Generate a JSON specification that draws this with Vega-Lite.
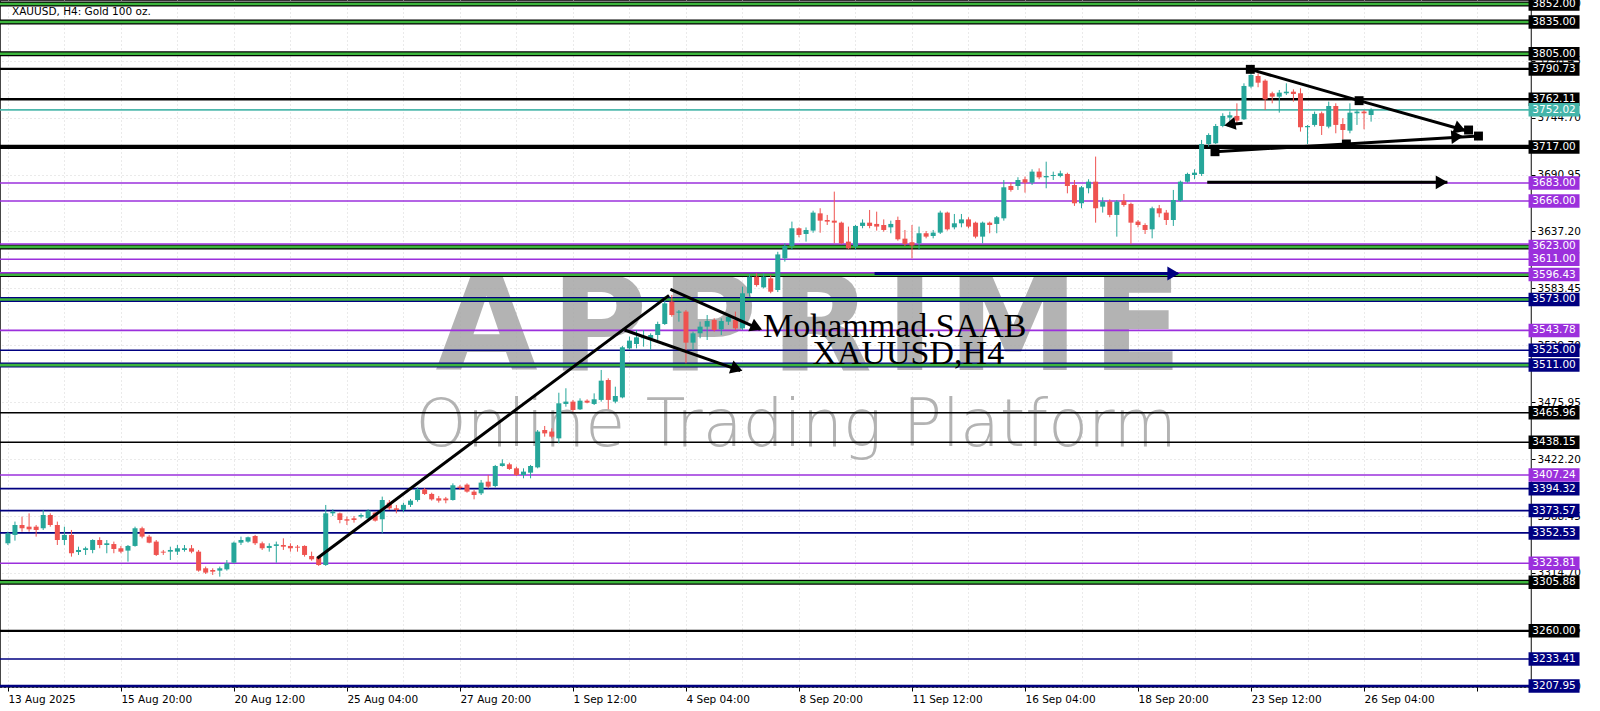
{
"$schema":"https://vega.github.io/schema/vega-lite/v6.json",
"width":1531,"height":687,"autosize":{"type":"none"},
"padding":{"left":0,"top":0,"right":69,"bottom":24},
"background":"#ffffff",
"config":{"view":{"stroke":"#333333","strokeWidth":1.2},"axis":{"labelFont":"DejaVu Sans","labelFontSize":10.5,"labelColor":"#000000"}},
"datasets":{
"candles":[
{"i":0,"o":3342.7,"h":3353.7,"l":3341.1,"c":3352.1},{"i":1,"o":3350.6,"h":3363.2,"l":3345.2,"c":3360.0},{"i":2,"o":3360.0,"h":3367.9,"l":3353.7,"c":3356.9},{"i":3,"o":3358.4,"h":3371.0,"l":3353.7,"c":3355.9},{"i":4,"o":3358.4,"h":3360.0,"l":3349.0,"c":3355.3},{"i":5,"o":3356.9,"h":3374.2,"l":3355.3,"c":3369.4},{"i":6,"o":3369.4,"h":3371.0,"l":3358.4,"c":3360.0},{"i":7,"o":3360.0,"h":3363.2,"l":3341.1,"c":3345.8},{"i":8,"o":3345.8,"h":3358.4,"l":3341.1,"c":3350.6},{"i":9,"o":3350.6,"h":3355.3,"l":3330.1,"c":3333.3},
{"i":10,"o":3334.5,"h":3339.5,"l":3331.7,"c":3336.4},{"i":11,"o":3336.4,"h":3339.5,"l":3331.7,"c":3338.0},{"i":12,"o":3336.4,"h":3346.5,"l":3333.3,"c":3345.8},{"i":13,"o":3345.8,"h":3348.4,"l":3338.0,"c":3341.1},{"i":14,"o":3341.1,"h":3345.8,"l":3333.3,"c":3342.7},{"i":15,"o":3342.0,"h":3344.3,"l":3333.3,"c":3337.3},{"i":16,"o":3338.0,"h":3340.2,"l":3333.3,"c":3334.8},{"i":17,"o":3335.8,"h":3341.1,"l":3325.4,"c":3340.2},{"i":18,"o":3340.2,"h":3358.4,"l":3339.5,"c":3356.9},{"i":19,"o":3356.9,"h":3358.4,"l":3347.4,"c":3349.0},
{"i":20,"o":3349.0,"h":3350.6,"l":3342.7,"c":3343.3},{"i":21,"o":3344.3,"h":3345.8,"l":3330.7,"c":3331.7},{"i":22,"o":3334.8,"h":3336.4,"l":3331.7,"c":3333.9},{"i":23,"o":3334.8,"h":3339.5,"l":3326.9,"c":3336.4},{"i":24,"o":3334.8,"h":3341.1,"l":3331.7,"c":3338.0},{"i":25,"o":3336.4,"h":3341.1,"l":3334.8,"c":3338.0},{"i":26,"o":3338.0,"h":3341.1,"l":3333.3,"c":3334.8},{"i":27,"o":3334.8,"h":3336.4,"l":3315.9,"c":3316.9},{"i":28,"o":3319.1,"h":3320.7,"l":3313.7,"c":3315.0},{"i":29,"o":3317.5,"h":3319.1,"l":3312.8,"c":3315.9},
{"i":30,"o":3316.9,"h":3320.7,"l":3311.2,"c":3319.1},{"i":31,"o":3318.1,"h":3326.9,"l":3316.9,"c":3323.8},{"i":32,"o":3324.4,"h":3344.3,"l":3323.8,"c":3343.3},{"i":33,"o":3343.3,"h":3349.0,"l":3341.1,"c":3345.8},{"i":34,"o":3344.3,"h":3349.0,"l":3343.3,"c":3348.4},{"i":35,"o":3349.6,"h":3350.6,"l":3341.1,"c":3342.7},{"i":36,"o":3342.7,"h":3344.3,"l":3336.4,"c":3338.0},{"i":37,"o":3338.3,"h":3342.7,"l":3334.8,"c":3340.2},{"i":38,"o":3340.2,"h":3344.3,"l":3324.4,"c":3341.7},{"i":39,"o":3341.1,"h":3347.4,"l":3336.4,"c":3339.5},
{"i":40,"o":3340.2,"h":3342.7,"l":3334.8,"c":3338.0},{"i":41,"o":3339.5,"h":3341.1,"l":3334.8,"c":3338.6},{"i":42,"o":3340.2,"h":3340.8,"l":3330.1,"c":3331.7},{"i":43,"o":3330.7,"h":3334.8,"l":3326.3,"c":3327.6},{"i":44,"o":3329.5,"h":3330.7,"l":3321.3,"c":3322.2},{"i":45,"o":3322.2,"h":3378.9,"l":3321.3,"c":3371.0},{"i":46,"o":3371.0,"h":3374.8,"l":3368.5,"c":3372.6},{"i":47,"o":3371.0,"h":3371.7,"l":3361.6,"c":3364.7},{"i":48,"o":3365.4,"h":3367.9,"l":3360.0,"c":3364.1},{"i":49,"o":3366.3,"h":3368.5,"l":3362.2,"c":3364.7},
{"i":50,"o":3367.9,"h":3371.0,"l":3366.3,"c":3369.4},{"i":51,"o":3366.3,"h":3374.8,"l":3365.4,"c":3373.5},{"i":52,"o":3371.7,"h":3372.6,"l":3363.2,"c":3364.1},{"i":53,"o":3365.4,"h":3386.8,"l":3352.1,"c":3383.6},{"i":54,"o":3381.1,"h":3383.6,"l":3374.2,"c":3375.7},{"i":55,"o":3375.7,"h":3378.9,"l":3371.0,"c":3374.2},{"i":56,"o":3374.2,"h":3381.0,"l":3372.0,"c":3379.0},{"i":57,"o":3379.0,"h":3384.5,"l":3377.0,"c":3383.0},{"i":58,"o":3383.6,"h":3395.5,"l":3382.0,"c":3393.7},{"i":59,"o":3393.7,"h":3394.9,"l":3388.3,"c":3389.3},
{"i":60,"o":3389.3,"h":3390.5,"l":3383.0,"c":3384.2},{"i":61,"o":3385.2,"h":3387.4,"l":3381.1,"c":3383.0},{"i":62,"o":3385.0,"h":3386.5,"l":3380.5,"c":3383.3},{"i":63,"o":3383.6,"h":3399.3,"l":3383.0,"c":3397.5},{"i":64,"o":3396.2,"h":3397.8,"l":3393.0,"c":3395.0},{"i":65,"o":3398.1,"h":3399.3,"l":3390.5,"c":3391.5},{"i":66,"o":3391.5,"h":3393.0,"l":3384.2,"c":3388.3},{"i":67,"o":3389.9,"h":3402.5,"l":3388.3,"c":3400.0},{"i":68,"o":3400.9,"h":3407.2,"l":3394.6,"c":3396.2},{"i":69,"o":3396.8,"h":3416.7,"l":3395.5,"c":3415.7},
{"i":70,"o":3415.7,"h":3422.0,"l":3415.1,"c":3418.2},{"i":71,"o":3417.3,"h":3418.8,"l":3412.0,"c":3412.9},{"i":72,"o":3413.5,"h":3415.1,"l":3406.3,"c":3407.2},{"i":73,"o":3407.2,"h":3413.5,"l":3404.1,"c":3410.4},{"i":74,"o":3409.4,"h":3416.7,"l":3404.1,"c":3415.7},{"i":75,"o":3414.4,"h":3449.7,"l":3413.5,"c":3448.2},{"i":76,"o":3449.7,"h":3453.5,"l":3443.4,"c":3446.5},{"i":77,"o":3448.2,"h":3451.3,"l":3441.8,"c":3443.4},{"i":78,"o":3441.8,"h":3484.9,"l":3437.1,"c":3474.9},{"i":79,"o":3474.3,"h":3489.1,"l":3471.7,"c":3476.5},
{"i":80,"o":3476.5,"h":3478.1,"l":3467.0,"c":3468.6},{"i":81,"o":3469.2,"h":3479.6,"l":3468.6,"c":3477.4},{"i":82,"o":3477.4,"h":3478.7,"l":3474.9,"c":3475.5},{"i":83,"o":3474.3,"h":3484.3,"l":3473.3,"c":3478.7},{"i":84,"o":3478.1,"h":3506.4,"l":3476.5,"c":3496.3},{"i":85,"o":3496.9,"h":3498.5,"l":3469.2,"c":3478.1},{"i":86,"o":3476.5,"h":3490.6,"l":3474.9,"c":3481.8},{"i":87,"o":3480.5,"h":3529.0,"l":3479.6,"c":3527.8},{"i":88,"o":3526.8,"h":3537.9,"l":3525.3,"c":3534.1},{"i":89,"o":3530.9,"h":3544.1,"l":3526.8,"c":3537.2},
{"i":90,"o":3536.3,"h":3544.1,"l":3528.4,"c":3537.2},{"i":91,"o":3536.3,"h":3541.0,"l":3525.3,"c":3539.4},{"i":92,"o":3539.4,"h":3552.0,"l":3534.7,"c":3549.8},{"i":93,"o":3549.8,"h":3575.6,"l":3548.9,"c":3569.3},{"i":94,"o":3570.9,"h":3577.2,"l":3556.7,"c":3558.3},{"i":95,"o":3560.5,"h":3563.0,"l":3552.0,"c":3561.5},{"i":96,"o":3561.5,"h":3563.0,"l":3512.7,"c":3532.2},{"i":97,"o":3532.2,"h":3542.6,"l":3525.3,"c":3541.0},{"i":98,"o":3541.0,"h":3552.0,"l":3536.3,"c":3547.3},{"i":99,"o":3547.3,"h":3558.3,"l":3534.7,"c":3552.6},
{"i":100,"o":3553.6,"h":3555.2,"l":3542.6,"c":3544.1},{"i":101,"o":3544.8,"h":3555.2,"l":3539.4,"c":3552.6},{"i":102,"o":3552.0,"h":3558.3,"l":3548.9,"c":3556.7},{"i":103,"o":3553.6,"h":3561.5,"l":3544.1,"c":3545.7},{"i":104,"o":3545.7,"h":3585.1,"l":3544.1,"c":3578.8},{"i":105,"o":3578.8,"h":3597.0,"l":3575.6,"c":3594.5},{"i":106,"o":3594.5,"h":3597.7,"l":3585.1,"c":3586.6},{"i":107,"o":3584.4,"h":3597.7,"l":3583.5,"c":3594.5},{"i":108,"o":3592.9,"h":3596.1,"l":3578.8,"c":3580.3},{"i":109,"o":3581.9,"h":3618.0,"l":3580.0,"c":3615.5},
{"i":110,"o":3611.8,"h":3626.0,"l":3608.7,"c":3623.5},{"i":111,"o":3623.5,"h":3646.5,"l":3619.7,"c":3640.2},{"i":112,"o":3640.2,"h":3641.0,"l":3631.7,"c":3633.9},{"i":113,"o":3634.8,"h":3641.0,"l":3627.6,"c":3638.6},{"i":114,"o":3638.0,"h":3656.8,"l":3636.0,"c":3655.0},{"i":115,"o":3654.3,"h":3659.1,"l":3636.0,"c":3647.4},{"i":116,"o":3648.0,"h":3652.8,"l":3643.3,"c":3646.5},{"i":117,"o":3647.4,"h":3674.8,"l":3626.0,"c":3645.5},{"i":118,"o":3645.5,"h":3646.5,"l":3625.4,"c":3626.0},{"i":119,"o":3627.6,"h":3641.8,"l":3620.3,"c":3621.3},
{"i":120,"o":3622.9,"h":3643.3,"l":3619.7,"c":3642.4},{"i":121,"o":3642.4,"h":3648.6,"l":3640.2,"c":3645.5},{"i":122,"o":3645.5,"h":3657.5,"l":3640.2,"c":3642.4},{"i":123,"o":3644.3,"h":3655.9,"l":3638.0,"c":3641.8},{"i":124,"o":3643.3,"h":3648.6,"l":3637.0,"c":3638.6},{"i":125,"o":3641.1,"h":3647.4,"l":3635.5,"c":3644.3},{"i":126,"o":3648.0,"h":3651.2,"l":3628.5,"c":3629.8},{"i":127,"o":3630.4,"h":3638.6,"l":3623.5,"c":3625.4},{"i":128,"o":3627.0,"h":3643.3,"l":3611.8,"c":3624.0},{"i":129,"o":3626.0,"h":3641.8,"l":3619.7,"c":3635.5},
{"i":130,"o":3635.5,"h":3637.6,"l":3630.7,"c":3632.3},{"i":131,"o":3632.9,"h":3638.6,"l":3630.7,"c":3636.1},{"i":132,"o":3636.1,"h":3656.8,"l":3634.8,"c":3655.0},{"i":133,"o":3655.0,"h":3655.9,"l":3638.0,"c":3639.2},{"i":134,"o":3641.1,"h":3653.7,"l":3639.2,"c":3644.9},{"i":135,"o":3644.9,"h":3653.7,"l":3641.1,"c":3648.6},{"i":136,"o":3648.6,"h":3650.6,"l":3640.2,"c":3641.8},{"i":137,"o":3645.5,"h":3646.5,"l":3630.7,"c":3632.3},{"i":138,"o":3632.3,"h":3646.5,"l":3626.0,"c":3645.5},{"i":139,"o":3645.5,"h":3646.5,"l":3635.5,"c":3643.3},
{"i":140,"o":3644.3,"h":3651.8,"l":3635.5,"c":3650.6},{"i":141,"o":3649.6,"h":3685.8,"l":3647.4,"c":3678.9},{"i":142,"o":3680.1,"h":3683.3,"l":3674.8,"c":3676.4},{"i":143,"o":3680.1,"h":3688.4,"l":3676.4,"c":3685.8},{"i":144,"o":3686.5,"h":3689.0,"l":3673.9,"c":3683.3},{"i":145,"o":3683.3,"h":3695.9,"l":3681.1,"c":3693.7},{"i":146,"o":3693.7,"h":3696.8,"l":3686.5,"c":3688.3},{"i":147,"o":3688.3,"h":3703.1,"l":3678.0,"c":3689.6},{"i":148,"o":3689.6,"h":3693.7,"l":3685.8,"c":3690.5},{"i":149,"o":3689.6,"h":3694.6,"l":3688.3,"c":3692.1},
{"i":150,"o":3691.5,"h":3692.7,"l":3673.2,"c":3680.1},{"i":151,"o":3681.1,"h":3685.8,"l":3661.3,"c":3663.8},{"i":152,"o":3663.8,"h":3680.1,"l":3659.1,"c":3678.9},{"i":153,"o":3678.0,"h":3686.5,"l":3673.2,"c":3684.2},{"i":154,"o":3684.2,"h":3707.9,"l":3645.5,"c":3659.1},{"i":155,"o":3660.6,"h":3669.4,"l":3655.0,"c":3665.4},{"i":156,"o":3665.4,"h":3667.5,"l":3650.6,"c":3652.8},{"i":157,"o":3652.8,"h":3666.9,"l":3632.3,"c":3665.4},{"i":158,"o":3666.3,"h":3672.6,"l":3660.6,"c":3662.2},{"i":159,"o":3663.2,"h":3664.4,"l":3625.4,"c":3645.5},
{"i":160,"o":3646.5,"h":3648.0,"l":3641.1,"c":3643.3},{"i":161,"o":3643.3,"h":3644.9,"l":3634.8,"c":3638.6},{"i":162,"o":3639.2,"h":3660.6,"l":3630.7,"c":3659.1},{"i":163,"o":3659.1,"h":3662.2,"l":3650.6,"c":3654.3},{"i":164,"o":3655.0,"h":3657.5,"l":3643.3,"c":3648.0},{"i":165,"o":3648.0,"h":3676.4,"l":3642.4,"c":3666.9},{"i":166,"o":3666.3,"h":3685.2,"l":3665.4,"c":3684.2},{"i":167,"o":3684.2,"h":3692.7,"l":3683.3,"c":3691.5},{"i":168,"o":3690.5,"h":3695.9,"l":3686.5,"c":3692.7},{"i":169,"o":3691.5,"h":3723.6,"l":3689.6,"c":3719.8},
{"i":170,"o":3719.8,"h":3729.9,"l":3717.3,"c":3728.3},{"i":171,"o":3720.5,"h":3738.7,"l":3719.8,"c":3736.8},{"i":172,"o":3736.8,"h":3748.8,"l":3735.6,"c":3746.3},{"i":173,"o":3744.7,"h":3750.4,"l":3740.9,"c":3746.9},{"i":174,"o":3746.3,"h":3758.2,"l":3737.8,"c":3741.9},{"i":175,"o":3743.1,"h":3777.1,"l":3742.5,"c":3774.6},{"i":176,"o":3774.0,"h":3791.5,"l":3772.4,"c":3785.0},{"i":177,"o":3784.0,"h":3786.6,"l":3773.4,"c":3777.7},{"i":178,"o":3779.6,"h":3780.9,"l":3751.9,"c":3762.0},{"i":179,"o":3767.7,"h":3769.2,"l":3758.2,"c":3764.5},
{"i":180,"o":3764.5,"h":3770.8,"l":3749.4,"c":3768.3},{"i":181,"o":3767.7,"h":3777.1,"l":3766.1,"c":3769.2},{"i":182,"o":3769.2,"h":3771.4,"l":3759.8,"c":3767.0},{"i":183,"o":3767.7,"h":3772.4,"l":3731.5,"c":3735.6},{"i":184,"o":3735.6,"h":3737.7,"l":3719.8,"c":3736.8},{"i":185,"o":3737.8,"h":3750.4,"l":3736.2,"c":3748.2},{"i":186,"o":3748.8,"h":3750.4,"l":3728.3,"c":3736.8},{"i":187,"o":3736.2,"h":3759.8,"l":3734.6,"c":3755.7},{"i":188,"o":3755.7,"h":3758.2,"l":3729.9,"c":3737.8},{"i":189,"o":3738.7,"h":3744.1,"l":3724.2,"c":3733.0},
{"i":190,"o":3732.4,"h":3758.2,"l":3729.9,"c":3749.4},{"i":191,"o":3748.8,"h":3751.9,"l":3737.8,"c":3750.4},{"i":192,"o":3750.4,"h":3751.9,"l":3733.7,"c":3748.8},{"i":193,"o":3747.2,"h":3753.5,"l":3740.9,"c":3752.0}
],
"levels":[
{"p":3852,"kind":"gk"},{"p":3835,"kind":"gk"},{"p":3805,"kind":"gk"},{"p":3790.73,"kind":"k"},{"p":3762.11,"kind":"k"},{"p":3752.02,"kind":"t"},{"p":3717,"kind":"k"},
{"p":3683,"kind":"v"},{"p":3666,"kind":"v"},{"p":3625.3,"kind":"v"},{"p":3622.6,"kind":"gk"},{"p":3611,"kind":"v"},{"p":3598.2,"kind":"v"},{"p":3596.43,"kind":"gk"},
{"p":3573,"kind":"gn"},{"p":3543.78,"kind":"v"},{"p":3525,"kind":"n"},{"p":3511,"kind":"gn"},{"p":3465.96,"kind":"k"},{"p":3438.15,"kind":"k"},{"p":3407.24,"kind":"v"},
{"p":3394.32,"kind":"n"},{"p":3373.57,"kind":"n"},{"p":3352.53,"kind":"n"},{"p":3323.81,"kind":"v"},{"p":3305.88,"kind":"gk"},{"p":3260,"kind":"k"},{"p":3233.41,"kind":"n"},{"p":3207.95,"kind":"n"}
],
"tags":[
{"p":3852,"kind":"k"},{"p":3835,"kind":"k"},{"p":3805,"kind":"k"},{"p":3790.73,"kind":"k"},{"p":3762.11,"kind":"k"},{"p":3752.02,"kind":"t"},{"p":3717,"kind":"k"},
{"p":3683,"kind":"v"},{"p":3666,"kind":"v"},{"p":3623,"kind":"v"},{"p":3611,"kind":"v"},{"p":3596.43,"kind":"v"},{"p":3573,"kind":"n"},{"p":3543.78,"kind":"v"},
{"p":3525,"kind":"n"},{"p":3511,"kind":"n"},{"p":3465.96,"kind":"k"},{"p":3438.15,"kind":"k"},{"p":3407.24,"kind":"v"},{"p":3394.32,"kind":"n"},{"p":3373.57,"kind":"n"},
{"p":3352.53,"kind":"n"},{"p":3323.81,"kind":"v"},{"p":3305.88,"kind":"k"},{"p":3260,"kind":"k"},{"p":3233.41,"kind":"n"},{"p":3207.95,"kind":"n"}
],
"trend":[
{"id":"t1","i":43.8,"p":3328.6},{"id":"t1","i":93.6,"p":3576.8},
{"id":"t2","i":93.8,"p":3582.6},{"id":"t2","i":106.5,"p":3544.8},
{"id":"t3","i":87.3,"p":3544.1},{"id":"t3","i":103.7,"p":3505.7},
{"id":"t5","i":169.8,"p":3683.6},{"id":"t5","i":203.8,"p":3683.6},
{"id":"t6","i":175.9,"p":3790.3},{"id":"t6","i":191.3,"p":3760.7},{"id":"t6","i":207.0,"p":3731.4},
{"id":"t7","i":170.9,"p":3712.5},{"id":"t7","i":189.5,"p":3719.8},{"id":"t7","i":208.2,"p":3727.3},
{"id":"t8","i":172.6,"p":3738.0},{"id":"t8","i":174.8,"p":3739.4}
],
"navy":[{"id":"t4","i":122.7,"p":3597.5},{"id":"t4","i":165.6,"p":3597.5}],
"heads":[
{"id":"h2","i":106.0,"p":3546.6},{"id":"h3","i":103.2,"p":3507.4},{"id":"h4","i":165.0,"p":3597.5},{"id":"h5","i":203.0,"p":3683.6},
{"id":"h6","i":205.6,"p":3734.0},{"id":"h7","i":205.2,"p":3726.6},{"id":"h8","i":173.0,"p":3738.3}
],
"squares":[
{"i":175.9,"p":3790.3},{"i":191.3,"p":3760.7},{"i":170.9,"p":3712.5},{"i":189.5,"p":3719.8},{"i":206.8,"p":3733.0},{"i":208.2,"p":3727.3}
],
"texts":[
{"id":"logo","i":113.4,"p":3506.5,"t":"A\u200aP\u200aP\u200aR\u200aI\u200aM\u200aE"},
{"id":"sub","i":111.6,"p":3453.5,"t":"Online Trading Platform"},
{"id":"n1","i":106.9,"p":3546.5,"t":"Mohammad.SAAB"},
{"id":"n2","i":113.9,"p":3521.5,"t":"XAUUSD,H4"},
{"id":"title","i":0.58,"p":3844.4,"t":"XAUUSD, H4:  Gold 100 oz."}
]
},
"layer":[
{"data":{"name":"texts"},"transform":[{"filter":"datum.id === 'logo'"}],
 "mark":{"type":"text","font":"DejaVu Sans","fontWeight":"bold","fontSize":132,"color":"#a6a6a6","opacity":0.85,"align":"center","baseline":"alphabetic"},
 "encoding":{"x":{"field":"i","type":"quantitative","scale":{"domain":[-0.41,214.93],"nice":false,"zero":false},
   "axis":{"title":null,"values":[0,8,16,24,32,40,48,56,64,72,80,88,96,104,112,120,128,136,144,152,160,168,176,184,192,200,208],
     "grid":true,"gridColor":"#d4d4d4","gridDash":[1,3],"domain":false,"tickSize":4,"tickColor":"#000000",
     "tickOpacity":{"condition":{"test":"datum.value % 16 === 0","value":1},"value":0},
     "labelExpr":"(datum.value % 16 === 0 && datum.value <= 192) ? ['13 Aug 2025','15 Aug 20:00','20 Aug 12:00','25 Aug 04:00','27 Aug 20:00','1 Sep 12:00','4 Sep 04:00','8 Sep 20:00','11 Sep 12:00','16 Sep 04:00','18 Sep 20:00','23 Sep 12:00','26 Sep 04:00'][datum.value/16] : ''",
     "labelAlign":"left","labelPadding":3,"labelFlush":false,"labelOverlap":false,"labelBound":false}},
  "y":{"field":"p","type":"quantitative","scale":{"domain":[3206.99,3855.78],"nice":false,"zero":false},
   "axis":{"orient":"right","title":null,"values":[3852.2,3798.45,3744.7,3690.95,3637.2,3583.45,3529.7,3475.95,3422.2,3368.45,3314.7,3260.95,3207.2],
     "format":".2f","grid":true,"gridColor":"#d4d4d4","gridDash":[1,3],"domain":false,"tickSize":4,"tickColor":"#000000",
     "labelAlign":"left","labelPadding":2,"labelFlush":false,"labelOverlap":false,"labelBound":false}},
  "text":{"field":"t"}}},
{"data":{"name":"texts"},"transform":[{"filter":"datum.id === 'sub'"}],
 "mark":{"type":"text","font":"DejaVu Sans","fontWeight":200,"fontSize":65,"color":"#ababab","opacity":0.9,"align":"center","baseline":"middle"},
 "encoding":{"x":{"field":"i","type":"quantitative"},"y":{"field":"p","type":"quantitative"},"text":{"field":"t"}}},
{"data":{"name":"levels"},"transform":[{"filter":"datum.kind === 'gk' || datum.kind === 'gn'"}],
 "mark":{"type":"rule","strokeWidth":5},
 "encoding":{"y":{"field":"p","type":"quantitative"},
  "color":{"field":"kind","type":"nominal","legend":null,"scale":{"domain":["gk","gn"],"range":["#000000","#000080"]}}}},
{"data":{"name":"levels"},"transform":[{"filter":"datum.kind === 'gk' || datum.kind === 'gn'"}],
 "mark":{"type":"rule","strokeWidth":2.6,"color":"#3cb53c"},
 "encoding":{"y":{"field":"p","type":"quantitative"}}},
{"data":{"name":"levels"},"transform":[{"filter":"datum.kind !== 'gk' && datum.kind !== 'gn'"}],
 "mark":{"type":"rule","strokeWidth":1.6},
 "encoding":{"y":{"field":"p","type":"quantitative"},
  "color":{"field":"kind","type":"nominal","legend":null,"scale":{"domain":["k","n","v","t"],"range":["#000000","#000080","#9b30dc","#4fb8ad"]}}}},
{"data":{"name":"levels"},"transform":[{"filter":"datum.p === 3717"}],
 "mark":{"type":"rule","strokeWidth":4.2,"color":"#000000"},
 "encoding":{"y":{"field":"p","type":"quantitative"}}},
{"data":{"name":"levels"},"transform":[{"filter":"datum.p === 3762.11 || datum.p === 3790.73 || datum.p === 3260 || datum.p === 3207.95"}],
 "mark":{"type":"rule","strokeWidth":2.4},
 "encoding":{"y":{"field":"p","type":"quantitative"},"color":{"field":"kind","type":"nominal","legend":null,"scale":{"domain":["k","n"],"range":["#000000","#000080"]}}}},
{"data":{"name":"candles"},
 "mark":{"type":"rule","strokeWidth":1},
 "encoding":{"x":{"field":"i","type":"quantitative"},
  "y":{"field":"l","type":"quantitative","scale":{"domain":[3206.99,3855.78],"nice":false,"zero":false}},
  "y2":{"field":"h"},
  "color":{"condition":{"test":"datum.c >= datum.o","value":"#26a69a"},"value":"#ef5350"}}},
{"data":{"name":"candles"},
 "mark":{"type":"bar","width":5},
 "encoding":{"x":{"field":"i","type":"quantitative"},
  "y":{"field":"o","type":"quantitative","scale":{"domain":[3206.99,3855.78],"nice":false,"zero":false}},
  "y2":{"field":"c"},
  "color":{"condition":{"test":"datum.c >= datum.o","value":"#26a69a"},"value":"#ef5350"}}},
{"data":{"name":"trend"},
 "mark":{"type":"line","strokeWidth":3,"color":"#000000"},
 "encoding":{"x":{"field":"i","type":"quantitative"},"y":{"field":"p","type":"quantitative"},"detail":{"field":"id"}}},
{"data":{"name":"navy"},
 "mark":{"type":"line","strokeWidth":3,"color":"#000080"},
 "encoding":{"x":{"field":"i","type":"quantitative"},"y":{"field":"p","type":"quantitative"}}},
{"data":{"name":"heads"},"transform":[{"filter":"datum.id === 'h2'"}],
 "mark":{"type":"point","shape":"triangle-right","filled":true,"size":190,"angle":24,"color":"#000000","opacity":1},
 "encoding":{"x":{"field":"i","type":"quantitative"},"y":{"field":"p","type":"quantitative"}}},
{"data":{"name":"heads"},"transform":[{"filter":"datum.id === 'h3'"}],
 "mark":{"type":"point","shape":"triangle-right","filled":true,"size":190,"angle":19,"color":"#000000","opacity":1},
 "encoding":{"x":{"field":"i","type":"quantitative"},"y":{"field":"p","type":"quantitative"}}},
{"data":{"name":"heads"},"transform":[{"filter":"datum.id === 'h4'"}],
 "mark":{"type":"point","shape":"triangle-right","filled":true,"size":190,"color":"#000080","opacity":1},
 "encoding":{"x":{"field":"i","type":"quantitative"},"y":{"field":"p","type":"quantitative"}}},
{"data":{"name":"heads"},"transform":[{"filter":"datum.id === 'h5'"}],
 "mark":{"type":"point","shape":"triangle-right","filled":true,"size":190,"color":"#000000","opacity":1},
 "encoding":{"x":{"field":"i","type":"quantitative"},"y":{"field":"p","type":"quantitative"}}},
{"data":{"name":"heads"},"transform":[{"filter":"datum.id === 'h6'"}],
 "mark":{"type":"point","shape":"triangle-right","filled":true,"size":190,"angle":20,"color":"#000000","opacity":1},
 "encoding":{"x":{"field":"i","type":"quantitative"},"y":{"field":"p","type":"quantitative"}}},
{"data":{"name":"heads"},"transform":[{"filter":"datum.id === 'h7'"}],
 "mark":{"type":"point","shape":"triangle-right","filled":true,"size":190,"angle":-4,"color":"#000000","opacity":1},
 "encoding":{"x":{"field":"i","type":"quantitative"},"y":{"field":"p","type":"quantitative"}}},
{"data":{"name":"heads"},"transform":[{"filter":"datum.id === 'h8'"}],
 "mark":{"type":"point","shape":"triangle-left","filled":true,"size":170,"angle":-10,"color":"#000000","opacity":1},
 "encoding":{"x":{"field":"i","type":"quantitative"},"y":{"field":"p","type":"quantitative"}}},
{"data":{"name":"squares"},
 "mark":{"type":"point","shape":"square","filled":true,"size":80,"color":"#000000","opacity":1},
 "encoding":{"x":{"field":"i","type":"quantitative"},"y":{"field":"p","type":"quantitative"}}},
{"data":{"name":"texts"},"transform":[{"filter":"datum.id === 'n1' || datum.id === 'n2'"}],
 "mark":{"type":"text","font":"Liberation Serif","fontSize":34,"color":"#000000","align":"left","baseline":"middle"},
 "encoding":{"x":{"field":"i","type":"quantitative"},"y":{"field":"p","type":"quantitative"},"text":{"field":"t"}}},
{"data":{"name":"texts"},"transform":[{"filter":"datum.id === 'title'"}],
 "mark":{"type":"text","font":"DejaVu Sans","fontSize":10.5,"color":"#000000","align":"left","baseline":"middle"},
 "encoding":{"x":{"field":"i","type":"quantitative"},"y":{"field":"p","type":"quantitative"},"text":{"field":"t"}}},
{"data":{"name":"tags"},
 "mark":{"type":"tick","orient":"horizontal","size":51,"thickness":13.5,"opacity":1},
 "encoding":{"x":{"datum":218.9,"type":"quantitative"},"y":{"field":"p","type":"quantitative"},
  "color":{"field":"kind","type":"nominal","legend":null,"scale":{"domain":["k","v","n","t"],"range":["#000000","#9b30dc","#000080","#44b5aa"]}}}},
{"data":{"name":"tags"},
 "mark":{"type":"text","font":"DejaVu Sans","fontSize":10.5,"color":"#ffffff","align":"center","baseline":"middle"},
 "encoding":{"x":{"datum":218.9,"type":"quantitative"},"y":{"field":"p","type":"quantitative"},
  "text":{"field":"p","type":"quantitative","format":".2f"}}}
],
"resolve":{"scale":{"color":"independent"}}
}
